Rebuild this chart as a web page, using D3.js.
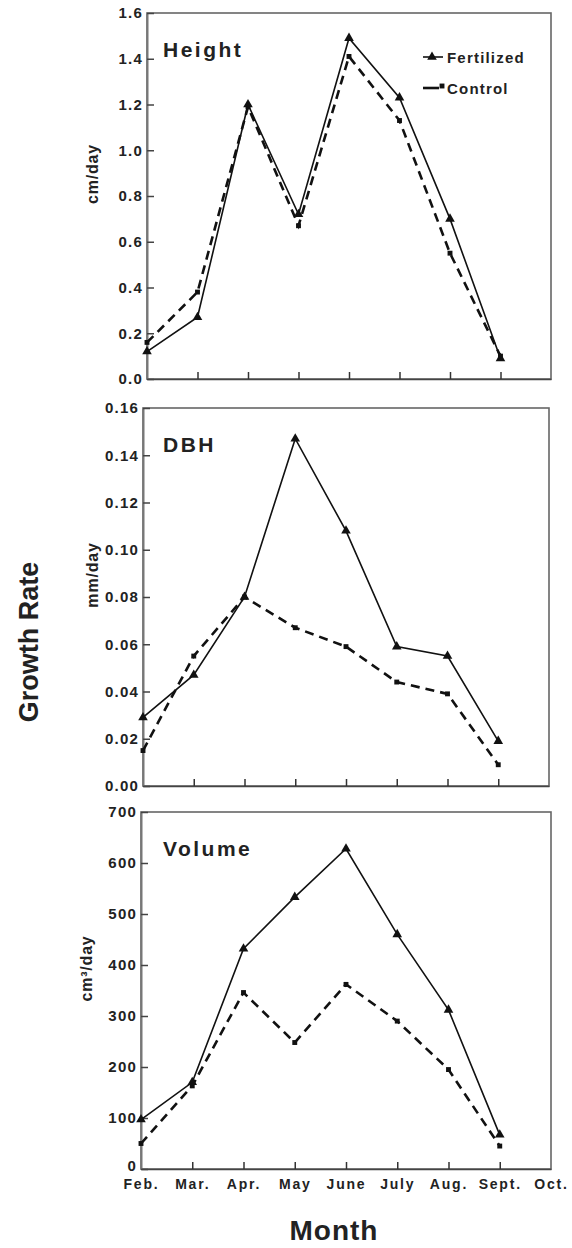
<!DOCTYPE html>
<html>
<head>
<meta charset="utf-8">
<script src="https://cdn.jsdelivr.net/npm/d3@7"></script>
<style>
  body { margin: 0; background: #fff; }
  svg text { font-family: "Liberation Sans", Arial, sans-serif; font-weight: bold; fill: #222; }
</style>
</head>
<body>
<div id="chart"></div>
<script>
const months = ["Feb.", "Mar.", "Apr.", "May", "June", "July", "Aug.", "Sept.", "Oct."];
const dataMonths = months.slice(0, 8);

const heightFert = [0.12, 0.27, 1.20, 0.72, 1.49, 1.23, 0.70, 0.09];
const heightCtrl = [0.16, 0.38, 1.19, 0.67, 1.41, 1.13, 0.55, 0.10];
const dbhFert = [0.029, 0.047, 0.080, 0.147, 0.108, 0.059, 0.055, 0.019];
const dbhCtrl = [0.015, 0.055, 0.080, 0.067, 0.059, 0.044, 0.039, 0.009];
const volFert = [97, 170, 432, 533, 628, 460, 312, 67];
const volCtrl = [50, 163, 346, 248, 362, 290, 195, 45];

const heightTicks = [0, 0.2, 0.4, 0.6, 0.8, 1.0, 1.2, 1.4, 1.6];
const dbhTicks = [0, 0.02, 0.04, 0.06, 0.08, 0.10, 0.12, 0.14, 0.16];
const volTicks = [0, 100, 200, 300, 400, 500, 600, 700];

const W = 572, H = 1248;
const svg = d3.select("#chart").append("svg")
    .attr("width", W)
    .attr("height", H);

const panels = [
    {title: "Height", unit: "cm/day", fert: heightFert, ctrl: heightCtrl, ticks: heightTicks,
        fmt: d3.format(".1f"), left: 147, right: 551, top: 13, bottom: 379, unitX: 98, legend: true},
    {title: "DBH", unit: "mm/day", fert: dbhFert, ctrl: dbhCtrl, ticks: dbhTicks,
        fmt: d3.format(".2f"), left: 143, right: 549, top: 408, bottom: 786, unitX: 98, legend: false},
    {title: "Volume", unit: "cm³/day", fert: volFert, ctrl: volCtrl, ticks: volTicks,
        fmt: d3.format("d"), left: 141, right: 551, top: 812, bottom: 1169, unitX: 92, legend: false}
];

function drawPanel (p, isLast) {
    const g = svg.append("g");
    const x = d3.scalePoint().domain(months).range([p.left, p.right]);
    const y = d3.scaleLinear()
        .domain([0, p.ticks[p.ticks.length-1]])
        .range([p.bottom, p.top]);

    // frame
    g.append("rect")
        .attr("x", p.left).attr("y", p.top)
        .attr("width", p.right-p.left).attr("height", p.bottom-p.top)
        .attr("fill", "none")
        .attr("stroke", "#666")
        .attr("stroke-width", 1.6);

    const yAxis = d3.axisLeft(y).tickValues(p.ticks).tickFormat(p.fmt).tickSizeInner(-7).tickSizeOuter(0);
    const ya = g.append("g").attr("transform", `translate(${p.left},0)`).call(yAxis);
    ya.select(".domain").attr("stroke", "#777").attr("stroke-width", 2);
    ya.selectAll(".tick line").attr("stroke", "#444").attr("stroke-width", 1.5);
    ya.selectAll(".tick text")
        .attr("font-size", 15)
        .attr("letter-spacing", 1.2)
        .attr("fill", "#222")
        .attr("x", -4);
    if (isLast) {
        // lift the zero label a bit so it clears the month labels
        ya.selectAll(".tick").filter(d => d===0).select("text").attr("dy", "0.1em");
    }

    const xAxis = d3.axisBottom(x).tickSizeInner(-7).tickSizeOuter(0).tickFormat(isLast ? (d => d) : "");
    const xa = g.append("g").attr("transform", `translate(0,${p.bottom})`).call(xAxis);
    xa.select(".domain").attr("stroke", "#444").attr("stroke-width", 1.6);
    xa.selectAll(".tick line").attr("stroke", "#333").attr("stroke-width", 1.5);
    xa.selectAll(".tick").filter(d => d==="Feb." || d==="Oct.").select("line").remove();
    xa.selectAll(".tick text")
        .attr("font-size", 14)
        .attr("letter-spacing", 1.8)
        .attr("fill", "#222")
        .attr("y", 10);

    g.append("text")
        .attr("x", 163).attr("y", p.top+44)
        .attr("font-size", 21)
        .attr("letter-spacing", 2.5)
        .text(p.title);

    g.append("text")
        .attr("transform", `translate(${p.unitX},${(p.top+p.bottom)/2-22}) rotate(-90)`)
        .attr("text-anchor", "middle")
        .attr("font-size", 16)
        .attr("letter-spacing", 0.8)
        .text(p.unit);

    const line = d3.line()
        .x((d, i) => x(dataMonths[i]))
        .y(d => y(d));

    g.append("path")
        .datum(p.ctrl)
        .attr("d", line)
        .attr("fill", "none")
        .attr("stroke", "#111")
        .attr("stroke-width", 2.6)
        .attr("stroke-dasharray", "9,6");

    g.append("path")
        .datum(p.fert)
        .attr("d", line)
        .attr("fill", "none")
        .attr("stroke", "#111")
        .attr("stroke-width", 1.6);

    const tri = d3.symbol().type(d3.symbolTriangle).size(40);
    const sq = d3.symbol().type(d3.symbolSquare).size(24);

    g.selectAll(".ctrl-pt")
        .data(p.ctrl)
        .enter().append("path")
        .attr("class", "ctrl-pt")
        .attr("d", sq)
        .attr("fill", "#111")
        .attr("transform", (d, i) => `translate(${x(dataMonths[i])},${y(d)})`);

    g.selectAll(".fert-pt")
        .data(p.fert)
        .enter().append("path")
        .attr("class", "fert-pt")
        .attr("d", tri)
        .attr("fill", "#111")
        .attr("transform", (d, i) => `translate(${x(dataMonths[i])},${y(d)})`);

    if (p.legend) {
        const lg = g.append("g").attr("transform", "translate(423,0)");
        lg.append("line").attr("x1", 0).attr("x2", 20).attr("y1", 57).attr("y2", 57)
            .attr("stroke", "#111").attr("stroke-width", 1.6);
        lg.append("path").attr("d", tri).attr("fill", "#111").attr("transform", "translate(9,57)");
        lg.append("text").attr("x", 24).attr("y", 63).attr("font-size", 15).attr("letter-spacing", 1.2).text("Fertilized");
        lg.append("line").attr("x1", 0).attr("x2", 16).attr("y1", 88).attr("y2", 88)
            .attr("stroke", "#111").attr("stroke-width", 2.6);
        lg.append("path").attr("d", sq).attr("fill", "#111").attr("transform", "translate(19,86)");
        lg.append("text").attr("x", 24).attr("y", 94).attr("font-size", 15).attr("letter-spacing", 1.2).text("Control");
    }
}

panels.forEach((p, i) => drawPanel(p, i===panels.length-1));

svg.append("text")
    .attr("x", 334).attr("y", 1240)
    .attr("text-anchor", "middle")
    .attr("font-size", 28)
    .attr("letter-spacing", 1)
    .text("Month");

svg.append("text")
    .attr("transform", "translate(38,642) rotate(-90)")
    .attr("text-anchor", "middle")
    .attr("font-size", 27)
    .attr("font-family", "'Open Sans', sans-serif")
    .text("Growth Rate");
</script>
</body>
</html>
